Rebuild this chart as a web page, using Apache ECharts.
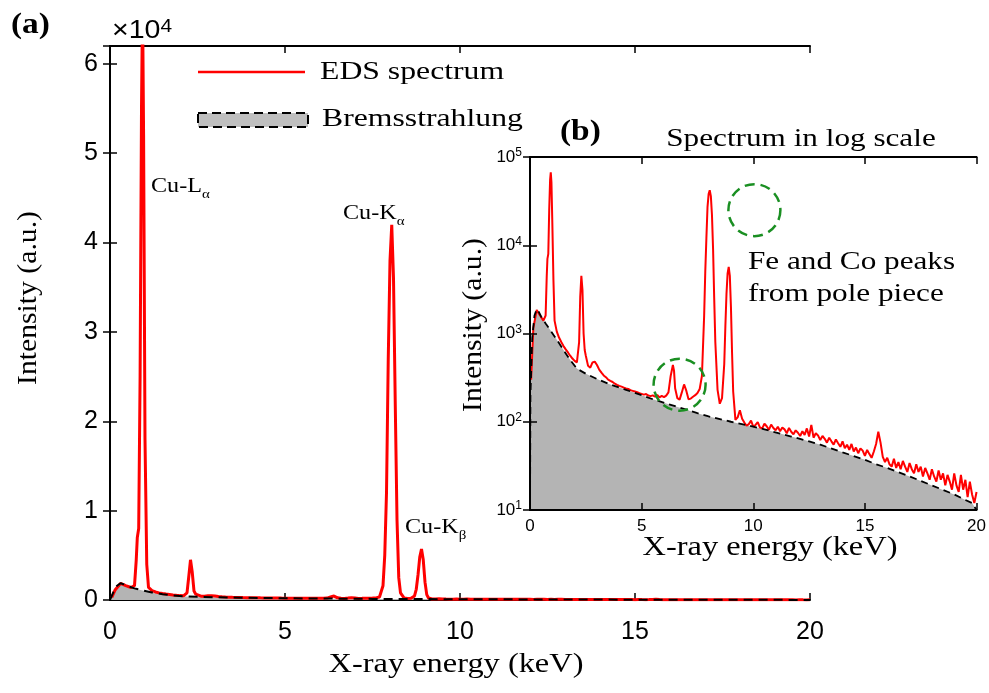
<!DOCTYPE html>
<html>
<head>
<meta charset="utf-8">
<script src="https://cdn.jsdelivr.net/npm/echarts@6/dist/echarts.min.js"></script>
<style>
  html, body { margin: 0; padding: 0; background: #fff; }
  #main { width: 989px; height: 693px; }
</style>
</head>
<body>
<div id="main"></div>
<script>
// EDS spectrum, [energy keV, counts]
const edsSpectrum = [
  [0.05, 300], [0.15, 1150], [0.3, 1850], [0.45, 1600], [0.6, 1400], [0.7, 1600], [0.75, 4500], [0.78, 7000],
  [0.82, 8000], [0.86, 25000], [0.9, 55000], [0.93, 67000], [0.96, 52000], [1.0, 18000], [1.05, 4000], [1.1, 1400],
  [1.2, 1050], [1.3, 900], [1.4, 800], [1.5, 720], [1.6, 660], [1.7, 610], [1.8, 560], [1.9, 520], [2.0, 490],
  [2.1, 470], [2.2, 800], [2.25, 2600], [2.3, 4500], [2.35, 3100], [2.4, 1000], [2.45, 650], [2.5, 560], [2.6, 430],
  [2.7, 410], [2.8, 470], [2.9, 480], [3.0, 440], [3.1, 390], [3.2, 360], [3.3, 335], [3.4, 320], [3.5, 300],
  [3.6, 290], [3.7, 282], [3.8, 270], [3.9, 262], [4.0, 255], [4.1, 250], [4.2, 244], [4.3, 238], [4.4, 235],
  [4.5, 228], [4.6, 224], [4.7, 220], [4.8, 216], [4.9, 211], [5.0, 207], [5.1, 203], [5.2, 206], [5.3, 198],
  [5.4, 195], [5.5, 199], [5.6, 192], [5.7, 201], [5.8, 189], [5.9, 196], [6.0, 190], [6.1, 198], [6.2, 215],
  [6.3, 330], [6.4, 440], [6.45, 380], [6.5, 240], [6.6, 185], [6.7, 178], [6.8, 215], [6.9, 265], [7.0, 225],
  [7.1, 180], [7.2, 183], [7.3, 192], [7.4, 200], [7.5, 212], [7.6, 235], [7.7, 330], [7.8, 1600], [7.85, 5000],
  [7.9, 12000], [7.95, 27000], [8.0, 38000], [8.05, 42000], [8.1, 36000], [8.15, 22000], [8.2, 9000], [8.25, 2500],
  [8.3, 800], [8.4, 230], [8.5, 160], [8.6, 185], [8.7, 450], [8.75, 1200], [8.8, 2800], [8.85, 4800], [8.9, 5700],
  [8.95, 4500], [9.0, 2000], [9.05, 600], [9.1, 220], [9.2, 105], [9.3, 112], [9.4, 135], [9.5, 108],
  [9.6, 98], [9.7, 90], [9.8, 94], [9.9, 103], [10.0, 88], [10.1, 92], [10.2, 99], [10.3, 86], [10.4, 84],
  [10.5, 95], [10.6, 89], [10.7, 81], [10.8, 93], [10.9, 85], [11.0, 80], [11.1, 88], [11.2, 78], [11.3, 86],
  [11.4, 82], [11.5, 74], [11.6, 85], [11.7, 77], [11.8, 72], [11.9, 80], [12.0, 75], [12.1, 69], [12.2, 78],
  [12.3, 71], [12.4, 84], [12.5, 68], [12.6, 92], [12.7, 66], [12.8, 74], [12.9, 70], [13.0, 62], [13.1, 69],
  [13.2, 64], [13.3, 58], [13.4, 66], [13.5, 60], [13.6, 55], [13.7, 63], [13.8, 57], [13.9, 52], [14.0, 60],
  [14.1, 50], [14.2, 55], [14.3, 48], [14.4, 56], [14.5, 46], [14.6, 51], [14.7, 44], [14.8, 50], [14.9, 47],
  [15.0, 41], [15.1, 48], [15.2, 43], [15.3, 39], [15.4, 46], [15.5, 56], [15.6, 77], [15.7, 58], [15.8, 40],
  [15.9, 35], [16.0, 39], [16.1, 33], [16.2, 31], [16.3, 38], [16.4, 30], [16.5, 35], [16.6, 29], [16.7, 36],
  [16.8, 31], [16.9, 27], [17.0, 34], [17.1, 29], [17.2, 26], [17.3, 33], [17.4, 27], [17.5, 31], [17.6, 24],
  [17.7, 30], [17.8, 26], [17.9, 22], [18.0, 29], [18.1, 24], [18.2, 21], [18.3, 28], [18.4, 22], [18.5, 26],
  [18.6, 19], [18.7, 25], [18.8, 21], [18.9, 17], [19.0, 26], [19.1, 19], [19.2, 16], [19.3, 25], [19.4, 17],
  [19.5, 22], [19.6, 14], [19.7, 21], [19.8, 15], [19.9, 12], [20.0, 16]
];

// bremsstrahlung background
const bremsBackground = [
  [0, 10], [0.02, 200], [0.1, 900], [0.2, 1600], [0.3, 1880], [0.4, 1750], [0.5, 1550], [0.7, 1300], [0.9, 1100],
  [1.2, 850], [1.5, 650], [1.8, 500], [2.1, 400], [2.5, 350], [3.0, 305], [3.5, 270], [4.3, 230], [5.0, 200],
  [5.5, 180], [6.5, 150], [7.5, 125], [8.0, 115], [9.0, 100], [10.0, 88], [10.5, 82], [11.7, 68], [12.5, 60],
  [13.0, 55], [14.0, 45], [15.0, 37], [15.5, 33], [16.0, 30], [17.0, 24], [18.0, 19], [19.0, 15], [19.5, 13],
  [19.8, 12], [20.0, 10]
];

// green dashed circles in the log inset (keV, counts)
const circleMarks = [[6.7, 263], [10.05, 25000]];

const serif = '"Liberation Serif", "Times New Roman", serif';
const sans = '"Liberation Sans", Arial, sans-serif';

var myChart = echarts.init(document.getElementById('main'));

function frameAxis(grid, pos, extra) {
  return Object.assign({
    gridIndex: grid,
    position: pos,
    min: 0, max: 20, interval: 5,
    axisLine: { show: true, onZero: false, lineStyle: { color: '#000', width: 2 } },
    axisTick: { show: true, inside: true, length: 7, lineStyle: { color: '#000', width: 1.5 } },
    axisLabel: { show: false },
    splitLine: { show: false }
  }, extra);
}

let option = {
  animation: false,
  backgroundColor: '#fff',
  grid: [
    { left: 110, top: 46, width: 700, height: 554 },
    { left: 530, top: 157, width: 448, height: 353 }
  ],
  xAxis: [
    frameAxis(0, 'bottom', {
      type: 'value',
      axisLabel: { show: true, margin: 20, fontFamily: sans, fontSize: 25, color: '#000' }
    }),
    frameAxis(0, 'top', { type: 'value' }),
    frameAxis(1, 'bottom', {
      type: 'value', z: 10,
      axisLabel: { show: true, margin: 8, fontFamily: sans, fontSize: 17, color: '#000' }
    }),
    frameAxis(1, 'top', { type: 'value', z: 10 })
  ],
  yAxis: [
    {
      gridIndex: 0, type: 'value', position: 'left', min: 0, max: 62000, interval: 10000,
      axisLine: { show: true, lineStyle: { color: '#000', width: 2 } },
      axisTick: { show: true, inside: true, length: 7, lineStyle: { color: '#000', width: 1.5 } },
      axisLabel: {
        margin: 12, fontFamily: sans, fontSize: 25, color: '#000', showMaxLabel: false,
        formatter: v => (v % 10000 === 0 ? String(v / 10000) : '')
      },
      splitLine: { show: false }
    },
    {
      gridIndex: 0, type: 'value', position: 'right', min: 0, max: 62000, interval: 10000,
      axisLine: { show: true, lineStyle: { color: '#000', width: 2 } },
      axisTick: { show: true, inside: true, length: 7, lineStyle: { color: '#000', width: 1.5 } },
      axisLabel: { show: false },
      splitLine: { show: false }
    },
    {
      gridIndex: 1, type: 'log', logBase: 10, min: 10, max: 100000, position: 'left', z: 10,
      axisLine: { show: true, lineStyle: { color: '#000', width: 2 } },
      axisTick: { show: true, inside: true, length: 7, lineStyle: { color: '#000', width: 1.5 } },
      axisLabel: {
        margin: 8, color: '#000',
        formatter: v => '{b|10}{s|' + Math.round(Math.log10(v)) + '}',
        rich: {
          b: { fontFamily: sans, fontSize: 17, color: '#000', lineHeight: 20 },
          s: { fontFamily: sans, fontSize: 12, color: '#000', verticalAlign: 'top', lineHeight: 20, padding: [0, 0, 6, 0] }
        }
      },
      splitLine: { show: false }
    },
    {
      gridIndex: 1, type: 'log', logBase: 10, min: 10, max: 100000, position: 'right', z: 10,
      axisLine: { show: true, lineStyle: { color: '#000', width: 2 } },
      axisTick: { show: true, inside: true, length: 7, lineStyle: { color: '#000', width: 1.5 } },
      axisLabel: { show: false },
      splitLine: { show: false }
    }
  ],
  series: [
    // main (linear)
    {
      type: 'line', xAxisIndex: 0, yAxisIndex: 0, data: bremsBackground, symbol: 'none', z: 2,
      lineStyle: { width: 0 }, areaStyle: { color: '#b4b4b4', opacity: 1, origin: 'start' }
    },
    {
      type: 'line', xAxisIndex: 0, yAxisIndex: 0, data: edsSpectrum, symbol: 'none', z: 3, clip: true,
      lineStyle: { color: '#ff0000', width: 3 }
    },
    {
      type: 'line', xAxisIndex: 0, yAxisIndex: 0, data: bremsBackground, symbol: 'none', z: 4,
      lineStyle: { color: '#000', width: 2, type: [9, 6] }
    },
    // inset (log)
    {
      type: 'line', xAxisIndex: 2, yAxisIndex: 2, data: bremsBackground, symbol: 'none', z: 7,
      lineStyle: { width: 0 }, areaStyle: { color: '#b4b4b4', opacity: 1, origin: 'start' }
    },
    {
      type: 'line', xAxisIndex: 2, yAxisIndex: 2, data: edsSpectrum, symbol: 'none', z: 8, clip: true,
      lineStyle: { color: '#ff0000', width: 2 }
    },
    {
      type: 'line', xAxisIndex: 2, yAxisIndex: 2, data: bremsBackground, symbol: 'none', z: 9,
      lineStyle: { color: '#000', width: 1.8, type: [7, 5] }
    },
    {
      type: 'scatter', xAxisIndex: 2, yAxisIndex: 2, data: circleMarks, z: 12,
      symbol: 'circle', symbolSize: 52, silent: true,
      itemStyle: { color: 'rgba(0,0,0,0)', opacity: 1, borderColor: '#1a8f22', borderWidth: 2.5, borderType: [10, 6] }
    }
  ],
  graphic: [
    // white panel behind the inset
    { type: 'rect', z: 6, silent: true, shape: { x: 458, y: 123, width: 531, height: 436 }, style: { fill: '#fff' } },
    // panel labels
    { type: 'text', z: 20, x: 11, y: 26, scaleX: 1.15, style: { text: '(a)', font: 'bold 29px ' + serif, fill: '#000', textVerticalAlign: 'middle' } },
    { type: 'text', z: 20, x: 560, y: 133, scaleX: 1.15, style: { text: '(b)', font: 'bold 29px ' + serif, fill: '#000', textVerticalAlign: 'middle' } },
    { type: 'text', z: 20, x: 112, y: 31, scaleX: 1.1, style: {
      text: '×10{s|4}', font: '26px ' + sans, fill: '#000', textVerticalAlign: 'middle',
      rich: { s: { fontFamily: sans, fontSize: 19, verticalAlign: 'top', lineHeight: 28, padding: [0, 0, 10, 0] } }
    } },
    // legend
    { type: 'line', z: 20, shape: { x1: 198, y1: 72, x2: 305, y2: 72 }, style: { stroke: '#ff0000', lineWidth: 2.5 } },
    { type: 'text', z: 20, x: 320, y: 72, scaleX: 1.22, style: { text: 'EDS spectrum', font: '26px ' + serif, fill: '#000', textVerticalAlign: 'middle' } },
    { type: 'rect', z: 20, shape: { x: 198, y: 113, width: 110, height: 14 }, style: { fill: '#bfbfbf', stroke: '#000', lineWidth: 2, lineDash: [9, 5] } },
    { type: 'text', z: 20, x: 322, y: 119, scaleX: 1.22, style: { text: 'Bremsstrahlung', font: '26px ' + serif, fill: '#000', textVerticalAlign: 'middle' } },
    // peak labels
    { type: 'text', z: 20, x: 151, y: 186, scaleX: 1.15, style: {
      text: 'Cu-L{s|α}', font: '21px ' + serif, fill: '#000', textVerticalAlign: 'middle',
      rich: { s: { fontFamily: serif, fontSize: 13, verticalAlign: 'bottom', lineHeight: 31 } }
    } },
    { type: 'text', z: 20, x: 343, y: 213, scaleX: 1.15, style: {
      text: 'Cu-K{s|α}', font: '21px ' + serif, fill: '#000', textVerticalAlign: 'middle',
      rich: { s: { fontFamily: serif, fontSize: 13, verticalAlign: 'bottom', lineHeight: 31 } }
    } },
    { type: 'text', z: 20, x: 405, y: 527, scaleX: 1.15, style: {
      text: 'Cu-K{s|β}', font: '21px ' + serif, fill: '#000', textVerticalAlign: 'middle',
      rich: { s: { fontFamily: serif, fontSize: 13, verticalAlign: 'bottom', lineHeight: 31 } }
    } },
    // axis names
    { type: 'text', z: 20, x: 456, y: 665, scaleX: 1.2, style: { text: 'X-ray energy (keV)', font: '27px ' + serif, fill: '#000', textAlign: 'center', textVerticalAlign: 'middle' } },
    { type: 'text', z: 20, x: 29, y: 298, rotation: Math.PI / 2, scaleX: 1.1, style: { text: 'Intensity (a.u.)', font: '27px ' + serif, fill: '#000', textAlign: 'center', textVerticalAlign: 'middle' } },
    { type: 'text', z: 20, x: 770, y: 548, scaleX: 1.2, style: { text: 'X-ray energy (keV)', font: '27px ' + serif, fill: '#000', textAlign: 'center', textVerticalAlign: 'middle' } },
    { type: 'text', z: 20, x: 474, y: 325, rotation: Math.PI / 2, scaleX: 1.1, style: { text: 'Intensity (a.u.)', font: '27px ' + serif, fill: '#000', textAlign: 'center', textVerticalAlign: 'middle' } },
    // inset texts
    { type: 'text', z: 20, x: 801, y: 139, scaleX: 1.2, style: { text: 'Spectrum in log scale', font: '26px ' + serif, fill: '#000', textAlign: 'center', textVerticalAlign: 'middle' } },
    { type: 'text', z: 20, x: 748, y: 262, scaleX: 1.2, style: { text: 'Fe and Co peaks', font: '26px ' + serif, fill: '#000', textVerticalAlign: 'middle' } },
    { type: 'text', z: 20, x: 748, y: 294, scaleX: 1.2, style: { text: 'from pole piece', font: '26px ' + serif, fill: '#000', textVerticalAlign: 'middle' } }
  ]
};

myChart.setOption(option);
</script>
</body>
</html>
